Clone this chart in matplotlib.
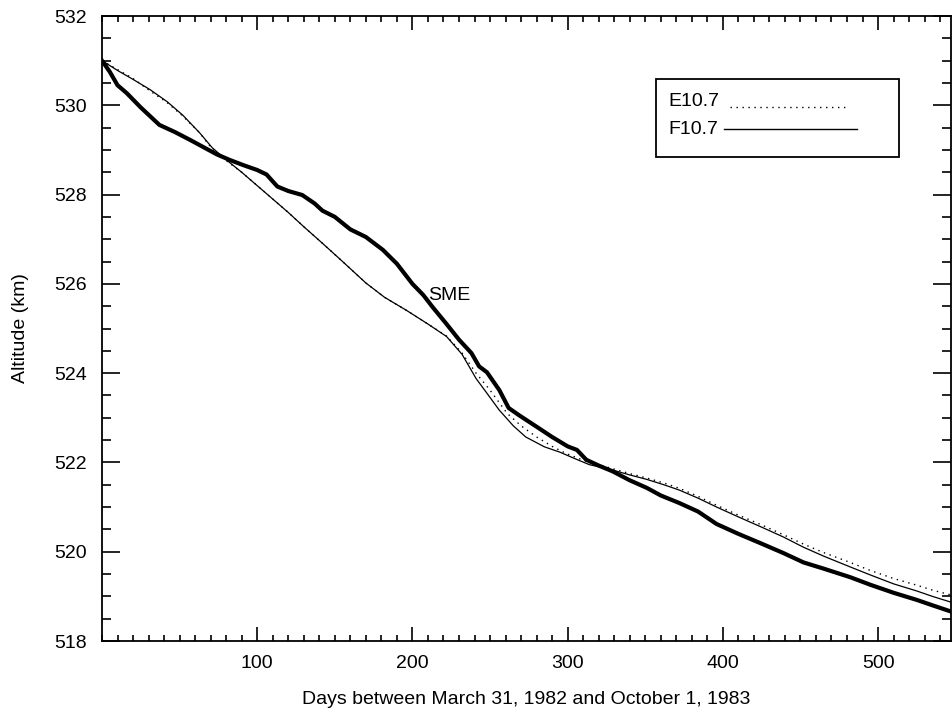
"""
SME orbit decay: observed altitude vs model runs driven by E10.7 and F10.7
"""

import matplotlib.pyplot as plt
from matplotlib.patches import Rectangle
from matplotlib.ticker import MultipleLocator

plt.rcParams['font.family'] = ['Liberation Sans', 'DejaVu Sans']

# Observed SME altitude (thick curve)
sme_days = [0, 5, 10, 16, 25, 37, 47, 57, 66, 74, 82, 91, 100, 106, 113, 120,
            129, 137, 142, 150, 160, 170, 181, 190, 200, 207, 213, 222, 230,
            238, 243, 248, 256, 262, 269, 280, 290, 300, 306, 312, 320, 329,
            340, 351, 360, 372, 384, 396, 410, 425, 439, 452, 465, 482, 495,
            510, 525, 535, 547]
sme_alt = [531.0, 530.75, 530.45, 530.27, 529.95, 529.56, 529.4, 529.22, 529.05,
           528.9, 528.78, 528.66, 528.55, 528.45, 528.18, 528.08, 527.99, 527.8,
           527.64, 527.5, 527.22, 527.05, 526.76, 526.45, 526.0, 525.75, 525.48,
           525.1, 524.75, 524.45, 524.15, 524.02, 523.62, 523.22, 523.05, 522.8,
           522.57, 522.36, 522.28, 522.06, 521.93, 521.8, 521.6, 521.43, 521.26,
           521.09, 520.9, 520.62, 520.4, 520.18, 519.97, 519.76, 519.62, 519.43,
           519.26, 519.08, 518.92, 518.8, 518.66]

# Model run with F10.7 (thin solid)
f107_days = [0, 10, 20, 31, 42, 52, 63, 71, 80, 90, 100, 110, 120, 130, 142,
             155, 170, 182, 196, 210, 222, 232, 241, 248, 256, 265, 273, 285,
             295, 305, 314, 329, 340, 351, 362, 372, 384, 396, 410, 425, 439,
             452, 465, 482, 495, 510, 525, 535, 547]
f107_alt = [531.0, 530.78, 530.58, 530.35, 530.08, 529.78, 529.38, 529.05,
            528.78, 528.5, 528.2, 527.9, 527.6, 527.28, 526.91, 526.5, 526.02,
            525.7, 525.41, 525.1, 524.82, 524.42, 523.88, 523.55, 523.17,
            522.82, 522.57, 522.35, 522.23, 522.08, 521.95, 521.83, 521.72,
            521.62, 521.5, 521.38, 521.2, 521.0, 520.78, 520.55, 520.33,
            520.1, 519.9, 519.66, 519.48, 519.28, 519.12, 519.0, 518.87]

# Model run with E10.7 (thin dotted)
e107_days = [0, 10, 20, 31, 42, 52, 63, 71, 80, 90, 100, 110, 120, 130, 142,
             155, 170, 182, 196, 210, 222, 232, 241, 250, 261, 270, 280, 290,
             299, 310, 320, 329, 340, 351, 362, 372, 384, 396, 410, 425, 439,
             452, 465, 482, 495, 510, 525, 535, 547]
e107_alt = [531.0, 530.8, 530.6, 530.32, 530.06, 529.76, 529.38, 529.02,
            528.76, 528.5, 528.2, 527.9, 527.6, 527.28, 526.91, 526.5, 526.02,
            525.7, 525.41, 525.1, 524.83, 524.45, 524.0, 523.62, 523.1, 522.82,
            522.57, 522.36, 522.2, 522.05, 521.95, 521.86, 521.75, 521.65,
            521.54, 521.42, 521.24, 521.04, 520.82, 520.6, 520.38, 520.17,
            519.98, 519.76, 519.58, 519.4, 519.25, 519.14, 519.03]

dotted = (0, (1, 3.3))

fig = plt.figure(figsize=(9.52, 7.17), dpi=100)
ax = fig.add_axes([102 / 952, 1 - 641 / 717, 849 / 952, 625 / 717])

ax.plot(f107_days, f107_alt, color='black', linewidth=0.9)
ax.plot(e107_days, e107_alt, color='black', linewidth=1.0, linestyle=dotted)
ax.plot(sme_days, sme_alt, color='black', linewidth=3.0)

ax.text(224, 525.73, 'SME', fontsize=14, ha='center', va='center')

# Axes, ticks on all four sides pointing in
ax.set_xlim(0, 547)
ax.set_ylim(518, 532)
ax.set_xticks([100, 200, 300, 400, 500])
ax.xaxis.set_minor_locator(MultipleLocator(10))
ax.yaxis.set_major_locator(MultipleLocator(2))
ax.yaxis.set_minor_locator(MultipleLocator(0.5))
ax.tick_params(axis='both', which='both', direction='in', top=True, right=True,
               width=1.2, labelsize=14)
ax.tick_params(axis='x', which='major', length=10, pad=10)
ax.tick_params(axis='x', which='minor', length=4.5)
ax.tick_params(axis='y', which='major', length=13, pad=11)
ax.tick_params(axis='y', which='minor', length=6.5)
for s in ax.spines.values():
    s.set_linewidth(1.3)

ax.set_xlabel('Days between March 31, 1982 and October 1, 1983', fontsize=14, labelpad=14)
ax.set_ylabel('Altitude (km)', fontsize=14, labelpad=18)

# Hand-drawn legend box
ax.add_patch(Rectangle((0.6525, 0.7744), 0.2863, 0.1248, transform=ax.transAxes,
                       fill=False, edgecolor='black', linewidth=1.3))
ax.text(0.6667, 0.8624, 'E10.7', transform=ax.transAxes, fontsize=14, va='center')
ax.text(0.6667, 0.8192, 'F10.7', transform=ax.transAxes, fontsize=14, va='center')
ax.plot([0.7397, 0.875], [0.855, 0.855], transform=ax.transAxes, color='black',
        linewidth=1.0, linestyle=dotted)
ax.plot([0.7326, 0.8893], [0.8192, 0.8192], transform=ax.transAxes, color='black',
        linewidth=1.0)

plt.savefig('out.png', dpi=100)
